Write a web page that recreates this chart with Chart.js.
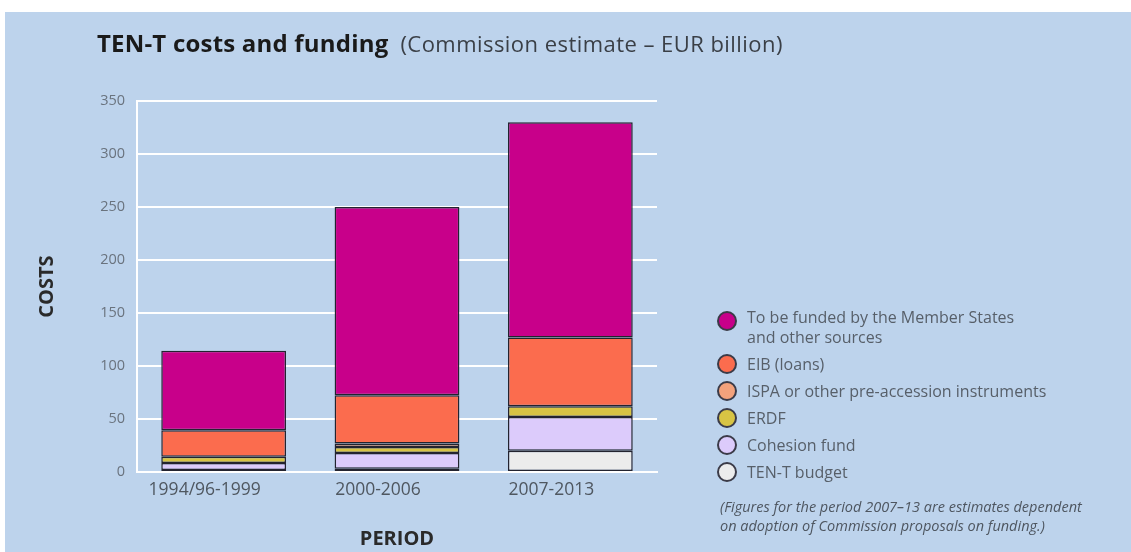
<!DOCTYPE html>
<html lang="en">
<head>
  <meta charset="UTF-8">
  <title>TEN-T costs and funding</title>
  <script src="https://cdn.jsdelivr.net/npm/chart.js"></script>
  <style>
    /* white frame around a light blue panel */
    body {
      margin: 0;
      background: #ffffff;
      font-family: 'Open Sans', sans-serif;
      width: 1131px;
      height: 552px;
      overflow: hidden;
      position: relative;
    }
    .panel {
      position: absolute;
      left: 5px;
      top: 12px;
      right: 0;
      bottom: 0;
      background: #bdd3ec;
    }
    .chart-box {
      position: absolute;
      left: 0;
      top: 0;
      width: 1131px;
      height: 552px;
    }
    .title {
      position: absolute;
      left: 97px;
      top: 26px;
      white-space: nowrap;
      color: #1a1a1a;
    }
    .title b {
      font-size: 24px;
      letter-spacing: 0.2px;
    }
    .title span {
      font-size: 22px;
      letter-spacing: 0.45px;
      color: #3a3f46;
      margin-left: 12px;
    }
    .legend {
      position: absolute;
      left: 717px;
      top: 307px;
      color: #575f69;
      font-size: 16px;
    }
    .legend .item {
      position: relative;
      padding-left: 30px;
      line-height: 20px;
      margin-bottom: 7px;
      white-space: nowrap;
    }
    .legend .item:first-child .dot { top: 4px; }
    .legend .dot {
      position: absolute;
      left: 0;
      top: 0;
      width: 16px;
      height: 16px;
      border-radius: 50%;
      border: 2px solid #3b3b48;
    }
    .note {
      position: absolute;
      left: 720px;
      top: 497px;
      font-size: 14.5px;
      font-style: italic;
      color: #4e5660;
      line-height: 19px;
      white-space: nowrap;
    }
  </style>
</head>
<body>
<div class="panel"></div>
<div class="chart-box"><canvas id="fundingChart"></canvas></div>
<div class="title"><b>TEN-T costs and funding</b><span>(Commission estimate – EUR billion)</span></div>
<div class="legend" id="legend"></div>
<div class="note">(Figures for the period 2007–13 are estimates dependent<br>on adoption of Commission proposals on funding.)</div>

<script>
  // periods on the x axis
  const periods = ['1994/96-1999', '2000-2006', '2007-2013'];
  const yTicks = [0, 50, 100, 150, 200, 250, 300, 350];

  // funding sources, stacked from the bottom up (EUR billion)
  const tentBudget   = [2, 3, 20];
  const cohesionFund = [6.5, 15, 32];
  const erdf         = [6, 5.5, 10];
  const ispa         = [0, 3.5, 0];
  const eibLoans     = [25, 45.5, 65];
  const memberStates = [75, 177.5, 203];

  const seriesNames = [
    'TEN-T budget',
    'Cohesion fund',
    'ERDF',
    'ISPA or other pre-accession instruments',
    'EIB (loans)',
    'To be funded by the Member States<br>and other sources'
  ];
  const seriesValues = [tentBudget, cohesionFund, erdf, ispa, eibLoans, memberStates];
  const seriesColors = ['#ececec', '#dccbfb', '#d8c444', '#f3a27c', '#fb6c4e', '#c8008a'];

  const datasets = seriesValues.map((vals, i) => ({
    label: seriesNames[i].replace('<br>', ' '),
    data: vals,
    backgroundColor: seriesColors[i],
    borderColor: '#23232f',
    borderWidth: 1.5,
    borderSkipped: false,
    barPercentage: 0.72,
    categoryPercentage: 1
  }));

  // html legend, top series first
  const legendEl = document.getElementById('legend');
  for (let i = seriesNames.length - 1; i >= 0; i--) {
    const item = document.createElement('div');
    item.className = 'item';
    item.innerHTML = '<span class="dot" style="background:' + seriesColors[i] + '"></span>' + seriesNames[i];
    legendEl.appendChild(item);
  }

  const ctx = document.getElementById('fundingChart').getContext('2d');
  new Chart(ctx, {
    type: 'bar',
    data: { labels: periods, datasets: datasets },
    options: {
      responsive: true,
      maintainAspectRatio: false,
      animation: false,
      layout: { padding: { top: 101, right: 474, bottom: 0, left: 0 } },
      plugins: {
        legend: { display: false },
        tooltip: { enabled: false }
      },
      scales: {
        x: {
          stacked: true,
          afterFit: (scale) => { scale.height = 80; },
          grid: { display: false, drawTicks: false },
          border: { display: true, color: '#ffffff', width: 2 },
          ticks: {
            color: '#4f5760',
            padding: 8,
            labelOffset: -19,
            font: { family: 'Open Sans', size: 17.5 }
          },
          title: {
            display: true,
            text: 'PERIOD',
            color: '#2a2a2a',
            padding: { top: 0, bottom: 1 },
            font: { family: 'Open Sans', size: 20, weight: 'bold' }
          }
        },
        y: {
          stacked: true,
          min: 0,
          max: 350,
          afterFit: (scale) => { scale.width = 137; },
          afterBuildTicks: (scale) => { scale.ticks = yTicks.map(v => ({ value: v })); },
          grid: { color: '#ffffff', lineWidth: 2, drawTicks: false },
          border: { display: true, color: '#ffffff', width: 2 },
          ticks: {
            color: '#6a737e',
            padding: 12,
            font: { family: 'Open Sans', size: 14.5 }
          },
          title: {
            display: true,
            text: 'COSTS',
            color: '#2a2a2a',
            padding: { top: 35, bottom: 0 },
            font: { family: 'Open Sans', size: 20, weight: 'bold' }
          }
        }
      }
    }
  });
</script>
</body>
</html>
